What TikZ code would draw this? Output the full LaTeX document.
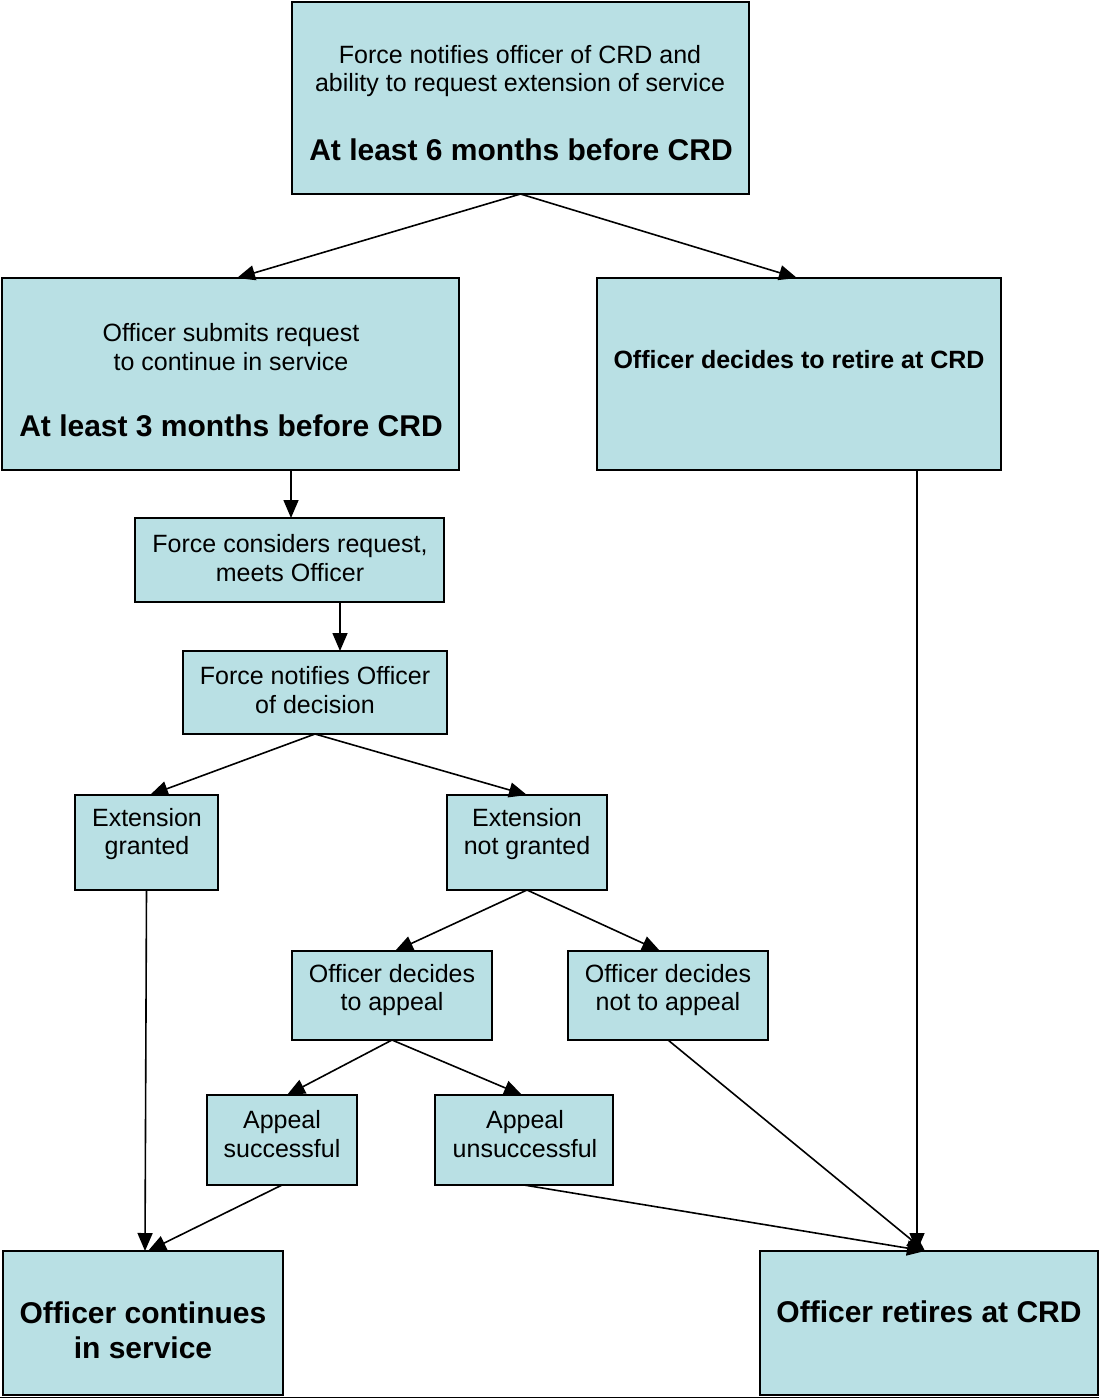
\documentclass[tikz,border=0pt]{standalone}
\usepackage{fontspec}
\setmainfont{Liberation Sans}
\usetikzlibrary{arrows.meta}
\definecolor{boxfill}{RGB}{185,224,228}
\tikzset{
  box/.style={draw=black, line width=1.8pt, fill=boxfill, rectangle, inner sep=0pt, outer sep=0pt},
  txt/.style={align=center, inner sep=0pt, font=\fontsize{25}{28.6}\selectfont},
  btxt/.style={align=center, inner sep=0pt, font=\fontsize{25}{28.6}\selectfont\bfseries},
  bigtxt/.style={align=center, inner sep=0pt, font=\fontsize{30}{35}\selectfont\bfseries},
  conn/.style={draw=black, line width=1.6pt, -{Triangle[length=18pt,width=15pt]}}
}
\begin{document}
\begin{tikzpicture}[x=1pt,y=-1pt]
\useasboundingbox (0,0) rectangle (1099,1399);
% boxes
\node[box, minimum width=457pt, minimum height=192pt] (top) at (520.5,98) {};
\node[box, minimum width=457pt, minimum height=192pt] (left) at (230.5,374) {};
\node[box, minimum width=404pt, minimum height=192pt] (right) at (799,374) {};
\node[box, minimum width=309pt, minimum height=84pt] (cons) at (289.5,560) {};
\node[box, minimum width=264pt, minimum height=83pt] (notif) at (315,692.5) {};
\node[box, minimum width=143pt, minimum height=95pt] (grant) at (146.5,842.5) {};
\node[box, minimum width=160pt, minimum height=95pt] (notgr) at (527,842.5) {};
\node[box, minimum width=200pt, minimum height=89pt] (appeal) at (392,995.5) {};
\node[box, minimum width=200pt, minimum height=89pt] (noappeal) at (668,995.5) {};
\node[box, minimum width=150pt, minimum height=90pt] (succ) at (282,1140) {};
\node[box, minimum width=178pt, minimum height=90pt] (unsucc) at (524,1140) {};
\node[box, minimum width=280pt, minimum height=144pt] (cont) at (143,1323) {};
\node[box, minimum width=338pt, minimum height=144pt] (retire) at (929,1323) {};
% texts
\node[txt] (topA) at (520,71) {Force notifies officer of CRD and\\ability to request extension of service};
\node[bigtxt] (topB) at (521,150) {At least 6 months before CRD};
\node[txt] (leftA) at (231,347) {Officer submits request\\to continue in service};
\node[bigtxt] (leftB) at (231,426) {At least 3 months before CRD};
\node[btxt] (rightA) at (799,360) {Officer decides to retire at CRD};
\node[txt] (consT) at (290,558) {Force considers request,\\meets Officer};
\node[txt] (notifT) at (315,690) {Force notifies Officer\\of decision};
\node[txt] (grantT) at (147,834) {Extension\\granted};
\node[txt] (notgrT) at (527,834) {Extension\\not granted};
\node[txt] (appealT) at (392,990) {Officer decides\\to appeal};
\node[txt] (noappealT) at (668,990) {Officer decides\\not to appeal};
\node[txt] (succT) at (282,1134) {Appeal\\successful};
\node[txt] (unsuccT) at (525,1134) {Appeal\\unsuccessful};
\node[bigtxt] (contT) at (143,1330) {Officer continues\\in service};
\node[bigtxt] (retireT) at (929,1312) {Officer retires at CRD};
% connectors
\draw[conn] (top.south) -- ([xshift=6.5pt]left.north);
\draw[conn] (top.south) -- ([xshift=-2pt]right.north);
\draw[conn] ([xshift=1.5pt]cons.north |- left.south) -- ([xshift=1.5pt]cons.north);
\coordinate (cs) at ([xshift=50.5pt]cons.south);
\draw[conn] (cs) -- (cs |- notif.north);
\draw[conn] (notif.south) -- ([xshift=3.5pt]grant.north);
\draw[conn] (notif.south) -- (notgr.north);
\draw[conn] (notgr.south) -- ([xshift=3pt]appeal.north);
\draw[conn] (notgr.south) -- ([xshift=-8pt]noappeal.north);
\draw[conn] (appeal.south) -- ([xshift=5pt]succ.north);
\draw[conn] (appeal.south) -- ([xshift=-2pt]unsucc.north);
\draw[conn] (grant.south) -- ([xshift=2pt]cont.north);
\draw[conn] (succ.south) -- ([xshift=5pt]cont.north);
\draw[conn] (unsucc.south) -- ([xshift=-4pt]retire.north);
\draw[conn] (noappeal.south) -- ([xshift=-4pt]retire.north);
\coordinate (rs) at ([xshift=118pt]right.south);
\draw[conn] (rs) -- (rs |- retire.north);
% bottom rule
\coordinate (bl) at (0,1397.5);
\coordinate (br) at (1099,1397.5);
\draw[line width=1.4pt] (bl) -- (br);
\end{tikzpicture}
\end{document}
